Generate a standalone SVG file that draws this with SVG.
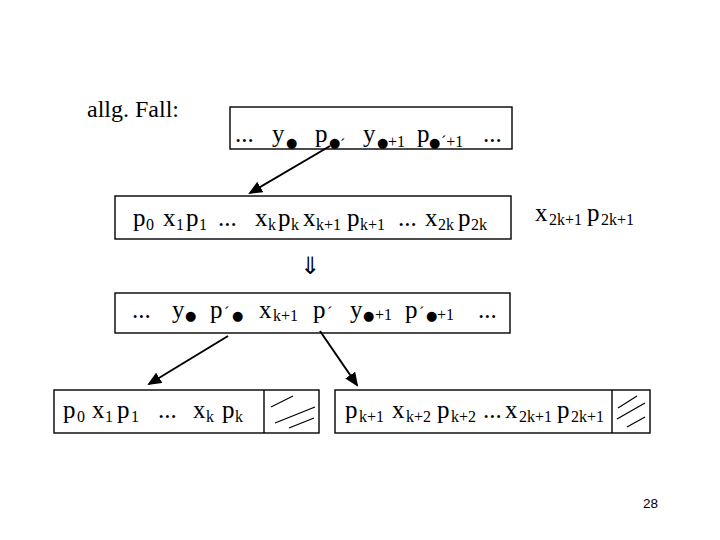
<svg xmlns="http://www.w3.org/2000/svg" width="720" height="540" viewBox="0 0 720 540">
<style>
.t{font-family:"Liberation Serif","Times New Roman",serif;font-size:25px;fill:#000}
.s{font-size:16px}
.d{font-family:"DejaVu Sans",sans-serif;font-size:13px}
.a{font-size:16px}
.box{fill:#fff;stroke:#000;stroke-width:1.4}
.h{stroke:#000;stroke-width:1.2}
.c{stroke:#000;stroke-width:2;fill:none;marker-end:url(#ah)}
</style>
<defs>
<marker id="ah" markerUnits="userSpaceOnUse" markerWidth="14" markerHeight="12" viewBox="0 0 14 12" refX="12" refY="6" orient="auto">
<path d="M0,0 L14,6 L0,12 z" fill="#000"/>
</marker>
</defs>
<rect width="720" height="540" fill="#fff"/>

<g id="label-allg">
<text class="t" x="87" y="117" style="font-size:24px">allg. Fall:</text>
</g>

<g id="node-top">
<rect class="box" x="230" y="107" width="282" height="42"/>
<text class="t"><tspan x="235" y="142">...</tspan><tspan x="272" y="142">y</tspan><tspan class="d" x="286" y="147">●</tspan><tspan x="315" y="142">p</tspan><tspan class="d" x="329" y="147">●</tspan><tspan class="a" x="340" y="150">´</tspan><tspan x="363" y="142">y</tspan><tspan class="d" x="377" y="147">●</tspan><tspan class="s" x="388" y="147">+1</tspan><tspan x="417" y="142">p</tspan><tspan class="d" x="429" y="147">●</tspan><tspan class="s" x="441" y="147">´+1</tspan><tspan x="483" y="142">...</tspan></text>
</g>

<g id="node-full">
<rect class="box" x="115" y="196" width="396" height="43"/>
<text class="t"><tspan x="133" y="226">p</tspan><tspan class="s" x="146" y="230">0</tspan><tspan x="163" y="226">x</tspan><tspan class="s" x="176" y="230">1</tspan><tspan x="186" y="226">p</tspan><tspan class="s" x="199" y="230">1</tspan><tspan x="218" y="226">...</tspan><tspan x="255" y="226">x</tspan><tspan class="s" x="268" y="230">k</tspan><tspan x="278" y="226">p</tspan><tspan class="s" x="291" y="230">k</tspan><tspan x="303" y="226">x</tspan><tspan class="s" x="316" y="230">k+1</tspan><tspan x="347" y="226">p</tspan><tspan class="s" x="360" y="230">k+1</tspan><tspan x="398" y="226">...</tspan><tspan x="425" y="226">x</tspan><tspan class="s" x="438" y="230">2k</tspan><tspan x="458" y="226">p</tspan><tspan class="s" x="471" y="230">2k</tspan></text>
</g>

<g id="node-overflow">
<text class="t"><tspan x="535" y="221">x</tspan><tspan class="s" x="549" y="225">2k+1</tspan><tspan x="587" y="221">p</tspan><tspan class="s" x="601" y="225">2k+1</tspan></text>
</g>

<g id="symbol-implies">
<text x="310" y="274" text-anchor="middle" style="font-family:'DejaVu Sans',sans-serif;font-size:24px" fill="#000">⇓</text>
</g>

<g id="node-parent">
<rect class="box" x="115" y="293" width="395" height="40"/>
<text class="t"><tspan x="132" y="318">...</tspan><tspan x="172" y="318">y</tspan><tspan class="d" x="185" y="320">●</tspan><tspan x="210" y="318">p</tspan><tspan class="a" x="224" y="318">´</tspan><tspan class="d" x="232" y="320">●</tspan><tspan x="259" y="318">x</tspan><tspan class="s" x="273" y="321">k+1</tspan><tspan x="313" y="318">p</tspan><tspan class="a" x="327" y="318">´</tspan><tspan x="350" y="318">y</tspan><tspan class="d" x="363" y="320">●</tspan><tspan class="s" x="375" y="320">+1</tspan><tspan x="405" y="318">p</tspan><tspan class="a" x="419" y="318">´</tspan><tspan class="d" x="426" y="320">●</tspan><tspan class="s" x="437" y="320">+1</tspan><tspan x="478" y="318">...</tspan></text>
</g>

<g id="node-left">
<rect class="box" x="54" y="390" width="265" height="43"/>
<line x1="264" y1="390" x2="264" y2="433" stroke="#000" stroke-width="1.4"/>
<line class="h" x1="271" y1="407" x2="293" y2="396"/>
<line class="h" x1="275" y1="423" x2="315" y2="407"/>
<line class="h" x1="289" y1="428" x2="314" y2="418"/>
<text class="t"><tspan x="63" y="418">p</tspan><tspan class="s" x="77" y="422">0</tspan><tspan x="92" y="418">x</tspan><tspan class="s" x="105" y="422">1</tspan><tspan x="117" y="418">p</tspan><tspan class="s" x="131" y="422">1</tspan><tspan x="158" y="418">...</tspan><tspan x="193" y="418">x</tspan><tspan class="s" x="206" y="422">k</tspan><tspan x="222" y="418">p</tspan><tspan class="s" x="235" y="422">k</tspan></text>
</g>

<g id="node-right">
<rect class="box" x="335" y="390" width="315" height="43"/>
<line x1="612" y1="390" x2="612" y2="433" stroke="#000" stroke-width="1.4"/>
<line class="h" x1="618" y1="408" x2="637" y2="396"/>
<line class="h" x1="617" y1="419" x2="645" y2="403"/>
<line class="h" x1="627" y1="427" x2="645" y2="417"/>
<text class="t"><tspan x="345" y="418">p</tspan><tspan class="s" x="359" y="422">k+1</tspan><tspan x="392" y="418">x</tspan><tspan class="s" x="406" y="422">k+2</tspan><tspan x="437" y="418">p</tspan><tspan class="s" x="451" y="422">k+2</tspan><tspan x="483" y="418">...</tspan><tspan x="505" y="418">x</tspan><tspan class="s" x="519" y="422">2k+1</tspan><tspan x="557" y="418">p</tspan><tspan class="s" x="571" y="422">2k+1</tspan></text>
</g>

<g id="connectors">
<line class="c" x1="330" y1="146" x2="250" y2="193"/>
<line class="c" x1="228" y1="336" x2="149" y2="384"/>
<line class="c" x1="320" y1="331" x2="357" y2="385"/>
</g>

<g id="page-number">
<text x="643" y="508" style="font-family:'Liberation Sans',Arial,sans-serif;font-size:13.5px" fill="#000">28</text>
</g>
</svg>
